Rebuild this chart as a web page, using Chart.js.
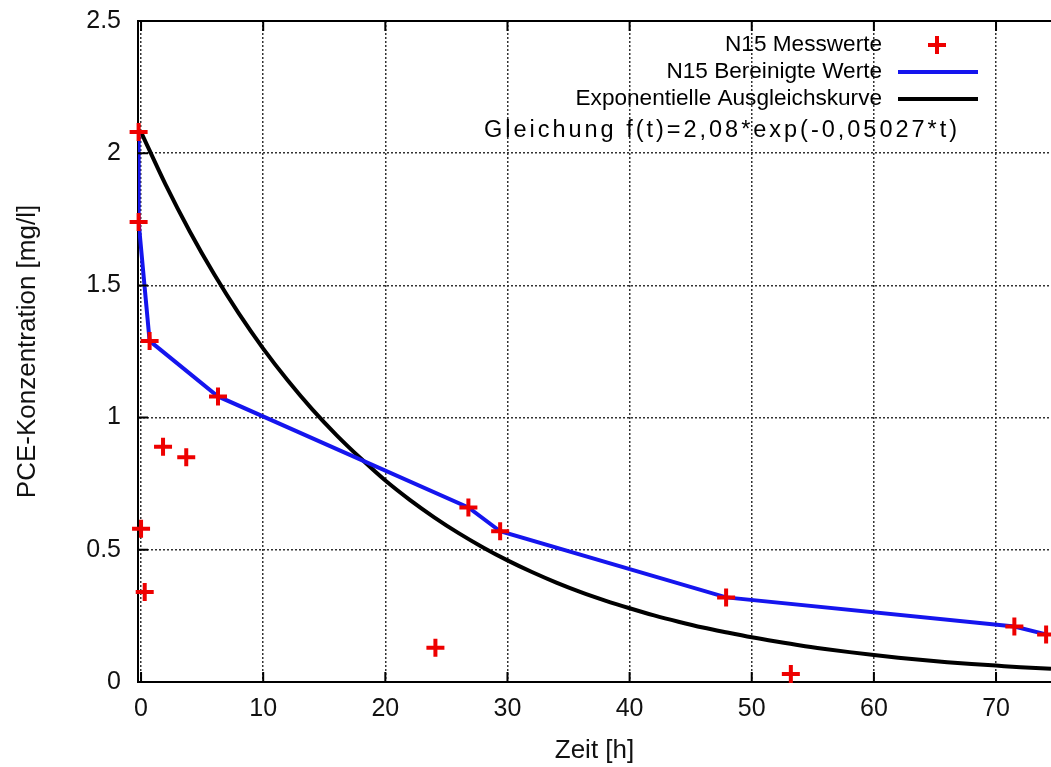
<!DOCTYPE html>
<html>
<head>
<meta charset="utf-8">
<script src="https://cdn.jsdelivr.net/npm/chart.js@4/dist/chart.umd.min.js"></script>
<style>html,body{margin:0;background:#fff}canvas{display:block}</style>
</head>
<body>
<canvas id="grafico" width="1051" height="767"></canvas>
<script>
// Messwerte (rote Kreuze)
const messZeit = [-0.2, -0.2, 0.7, 6.3, 1.8, 3.7, 0.0, 0.3, 24.1, 26.8, 29.4, 47.9, 53.2, 71.5, 74.1];
const messKonz = [2.08, 1.74, 1.29, 1.08, 0.89, 0.85, 0.58, 0.34, 0.13, 0.66, 0.57, 0.32, 0.03, 0.21, 0.18];
// bereinigte Werte (blaue Linie)
const berZeit = [-0.2, -0.2, 0.7, 6.3, 26.8, 29.4, 47.9, 71.5, 74.1];
const berKonz = [2.08, 1.74, 1.29, 1.08, 0.66, 0.57, 0.32, 0.21, 0.18];
// Ausgleichskurve (schwarz)
const fitZeit = [0, 2, 4, 6, 8, 10, 12, 14, 16, 18, 20, 22, 24, 26, 28, 30, 32, 34, 36, 38, 40, 42, 44, 46, 48, 50, 52, 54, 56, 58, 60, 62, 64, 66, 68, 70, 72, 74.5];
const fitKonz = [2.08, 1.882, 1.703, 1.541, 1.394, 1.261, 1.141, 1.032, 0.934, 0.845, 0.762, 0.689, 0.623, 0.563, 0.509, 0.460, 0.416, 0.376, 0.340, 0.308, 0.279, 0.252, 0.228, 0.206, 0.187, 0.169, 0.153, 0.138, 0.125, 0.113, 0.102, 0.092, 0.083, 0.075, 0.068, 0.062, 0.056, 0.05];
const labels = ["N15 Messwerte", "N15 Bereinigte Werte", "Exponentielle Ausgleichskurve"];
const gleichung = "Gleichung f(t)=2,08*exp(-0,05027*t)";

const pts = (xs, ys) => xs.map((x, i) => ({x: x, y: ys[i]}));
const FONT = "Liberation Sans, Arial, sans-serif";
const ROT = "#ee0000", BLAU = "#1515ee", SCHWARZ = "#000";

// Rahmen oben, Ticks nach innen, Legende und Gleichung
const gnuplotDeko = {
  id: "gnuplotDeko",
  afterDraw(chart) {
    const c = chart.ctx, a = chart.chartArea, sx = chart.scales.x, sy = chart.scales.y;
    c.save();
    c.strokeStyle = "#000"; c.lineWidth = 2;
    c.beginPath(); c.moveTo(a.left, a.top); c.lineTo(a.right, a.top); c.stroke();
    c.beginPath();
    sx.ticks.forEach(t => {
      const px = sx.getPixelForValue(t.value);
      c.moveTo(px, a.bottom); c.lineTo(px, a.bottom - 10);
      c.moveTo(px, a.top); c.lineTo(px, a.top + 10);
    });
    sy.ticks.forEach(t => {
      const py = sy.getPixelForValue(t.value);
      c.moveTo(a.left, py); c.lineTo(a.left + 10, py);
    });
    c.stroke();

    c.font = "22.6px " + FONT; c.fillStyle = "#000";
    c.textAlign = "right"; c.textBaseline = "middle";
    const ys = [45, 72, 99];
    ys.forEach((y, i) => c.fillText(labels[i], 882, y));
    // Kreuz
    c.strokeStyle = ROT; c.lineWidth = 4;
    c.beginPath(); c.moveTo(928, 45); c.lineTo(946, 45); c.moveTo(937, 36); c.lineTo(937, 54); c.stroke();
    c.strokeStyle = BLAU; c.beginPath(); c.moveTo(898, 72); c.lineTo(978, 72); c.stroke();
    c.strokeStyle = SCHWARZ; c.beginPath(); c.moveTo(898, 99); c.lineTo(978, 99); c.stroke();

    // Gleichung, leicht gesperrt von x=484 bis x=957
    c.font = "23.5px " + FONT;
    c.textAlign = "left";
    const chars = [...gleichung];
    const nat = chars.reduce((s, ch) => s + c.measureText(ch).width, 0);
    const sp = (473 - nat) / (chars.length - 1);
    let x = 484;
    chars.forEach(ch => { c.fillText(ch, x, 131); x += c.measureText(ch).width + sp; });
    c.restore();
  }
};

new Chart(document.getElementById("grafico"), {
  type: "scatter",
  data: {
    datasets: [
      {label: labels[0], data: pts(messZeit, messKonz), order: 0, pointStyle: "cross",
       pointRadius: 9, pointBorderWidth: 4, borderColor: ROT, backgroundColor: ROT, clip: false},
      {label: labels[1], data: pts(berZeit, berKonz), order: 1, showLine: true, pointRadius: 0,
       borderColor: BLAU, borderWidth: 4, tension: 0},
      {label: labels[2], data: pts(fitZeit, fitKonz), order: 2, showLine: true, pointRadius: 0,
       borderColor: SCHWARZ, borderWidth: 4, cubicInterpolationMode: "monotone"}
    ]
  },
  options: {
    responsive: false, animation: false,
    layout: {autoPadding: false, padding: {top: 21, right: 0, left: 0, bottom: 0}},
    plugins: {legend: {display: false}, tooltip: {enabled: false}},
    scales: {
      x: {
        type: "linear", min: -0.25, max: 74.5,
        afterFit: s => { s.height = 85; s.paddingLeft = 0; s.paddingRight = 0; },
        ticks: {stepSize: 10, includeBounds: false, color: "#111", padding: 12, font: {family: FONT, size: 25}},
        grid: {color: "#333", lineWidth: 1.5, drawTicks: false, tickLength: 0},
        border: {color: "#000", width: 2, dash: [2, 2]},
        title: {display: true, text: "Zeit [h]", color: "#111", font: {family: FONT, size: 26}, padding: {top: 0, bottom: 1}}
      },
      y: {
        min: 0, max: 2.5,
        afterFit: s => { s.width = 138; s.paddingTop = 0; s.paddingBottom = 0; },
        ticks: {stepSize: 0.5, color: "#111", padding: 17, font: {family: FONT, size: 25},
                callback: v => String(v)},
        grid: {color: "#333", lineWidth: 1.5, drawTicks: false, tickLength: 0},
        border: {color: "#000", width: 2, dash: [2, 2]},
        title: {display: true, text: "PCE-Konzentration [mg/l]", color: "#111", font: {family: FONT, size: 26}, padding: {top: 12, bottom: 0}}
      }
    }
  },
  plugins: [gnuplotDeko]
});
</script>
</body>
</html>
